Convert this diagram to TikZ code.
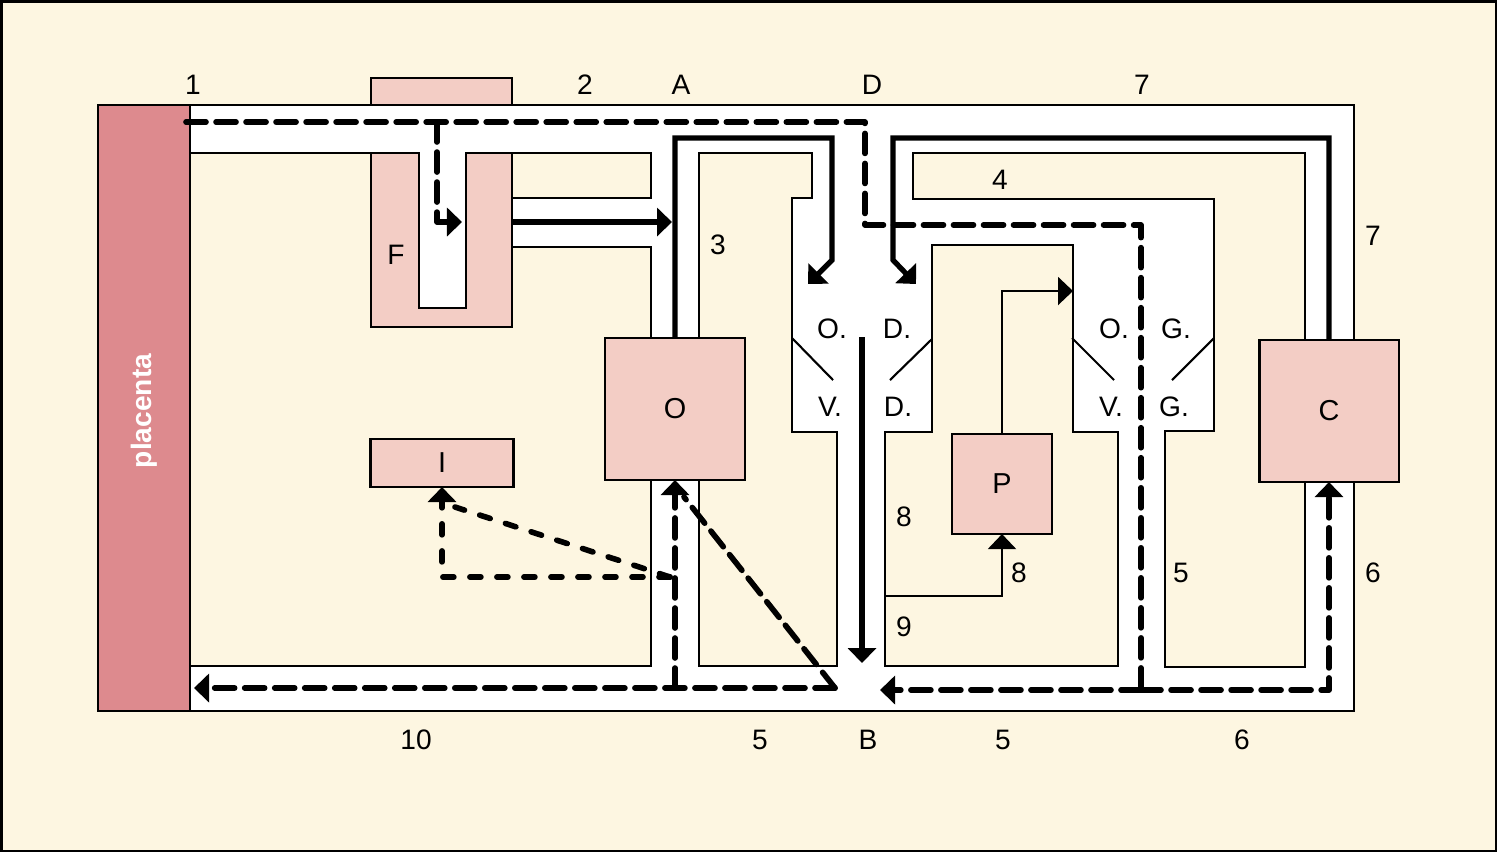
\documentclass[tikz,border=0pt]{standalone}
\usepackage{fontspec}
\setmainfont{Liberation Sans}
\usetikzlibrary{arrows.meta}
\definecolor{cream}{RGB}{253,246,225}
\definecolor{rose}{RGB}{243,205,197}
\definecolor{placentared}{RGB}{221,138,142}
\tikzset{
  wall/.style={draw=black,line width=0.6pt},
  organ/.style={wall,fill=rose,inner sep=0pt,outer sep=0pt,font=\fontsize{8.2}{9.8}\selectfont},
  arr/.style={-{Triangle[length=1.5mm,width=2.8mm]}},
  flow/.style={line width=1.5pt,arr},
  blood/.style={line width=1.6pt,dash pattern=on 2mm off 1mm,line cap=round,line join=round},
  mixed/.style={line width=1.6pt,dash pattern=on 1.1mm off 1.6mm,line cap=round,line join=round},
  lbl/.style={font=\fontsize{8}{9.6}\selectfont,inner sep=0pt}
}
\begin{document}
\begin{tikzpicture}[x=0.01cm,y=-0.01cm]
        \useasboundingbox (0,0) rectangle (1500,853);
        \filldraw[fill=cream,draw=black,line width=0.7pt] (1.5,1.5) rectangle (1496,851);
        \filldraw[wall,fill=rose] (371,105) -- (371,78) -- (512,78) -- (512,105);
        \filldraw[wall,fill=white] (98,105) rectangle (1354,711);
        \begin{scope}[every path/.style={wall,fill=cream}]
          \filldraw (190,153) -- (371,153) -- (371,327) -- (512,327) -- (512,247) -- (651,247) -- (651,666) -- (190,666) -- cycle;
          \filldraw (512,153) rectangle (651,198);
          \filldraw (699,153) -- (812,153) -- (812,198) -- (792,198) -- (792,432) -- (837,432) -- (837,666) -- (699,666) -- cycle;
          \filldraw (932,245) -- (1073,245) -- (1073,432) -- (1118,432) -- (1118,666) -- (885,666) -- (885,432) -- (932,432) -- cycle;
          \filldraw (913,153) -- (1305,153) -- (1305,667) -- (1165,667) -- (1165,431) -- (1214,431) -- (1214,199) -- (913,199) -- cycle;
        \end{scope}
        \filldraw[wall,fill=rose] (371,153) -- (419,153) -- (419,308) -- (466,308) -- (466,153) -- (512,153) -- (512,327) -- (371,327) -- cycle;
        \draw[wall] (792,338) -- (833,380);
        \draw[wall] (932,339) -- (890,380);
        \draw[wall] (1072,338) -- (1114,380);
        \draw[wall] (1214,338) -- (1172,380);
        \filldraw[wall,fill=placentared] (98,105) rectangle (190,711);
        \node[rotate=90,text=white,inner sep=0pt,font=\bfseries\fontsize{8}{9.6}\selectfont] (plac) at (144,411) {placenta};
        \node[organ,minimum width=1.40cm,minimum height=1.42cm] (o) at (675,409) {O};
        \node[organ,minimum width=1.39cm,minimum height=1.42cm] (c) at (1329,411) {C};
        \node[organ,minimum width=1cm,minimum height=1cm] (p) at (1002,484) {P};
        \node[organ,minimum width=1.43cm,minimum height=0.48cm] (i) at (442,463) {I};
        \coordinate (pl) at (186,122);
        \coordinate (b) at (835,688);
        \coordinate (t) at (1141,690);
        \coordinate (mix) at (670,577);
        \draw[blood] (pl) -- (865,122) -- (865,225) -- (1141,225) -- (t);
        \draw[blood,arr] (437,122) -- (437,222) -- (462,222);
        \draw[blood,arr] (t) -- (880,690);
        \draw[blood,arr] (t) -| (c.south);
        \draw[blood,arr] (b) -- (194,688);
        \draw[blood,arr] (675,688) -- (o.south);
        \draw[blood] (b) -- (684,497);
        \draw[mixed,arr] (mix) -- (442,577) -- (i.south);
        \draw[mixed] (mix) -- (455,507);
        \draw[flow] (o.north) -- (675,138) -- (832,138) -- (832,260) -- (808,284);
        \draw[flow] (c.north) -- (1329,138) -- (893,138) -- (893,260) -- (916,284);
        \draw[flow] (512,222) -- (672,222);
        \draw[flow] (862,337) -- (862,663);
        \draw[wall,arr] (884,596) -| (p.south);
        \draw[wall,arr] (p.north) |- (1073,291);
        \begin{scope}[every node/.style={lbl}]
          \node (n1) at (193,85) {1};
          \node (n2) at (585,85) {2};
          \node (na) at (681,85) {A};
          \node (nd) at (872,85) {D};
          \node (n7a) at (1142,85) {7};
          \node (n4) at (1000,180) {4};
          \node (n3) at (718,245) {3};
          \node (n7b) at (1373,236) {7};
          \node (nf) at (396,255) {F};
          \node (od) at (832,329) {O.};
          \node (dd) at (897,329) {D.};
          \node (og) at (1114,329) {O.};
          \node (gg) at (1176,329) {G.};
          \node (vd) at (830,407) {V.};
          \node (dv) at (898,407) {D.};
          \node (vg) at (1111,407) {V.};
          \node (gv) at (1174,407) {G.};
          \node (n8a) at (904,517) {8};
          \node (n8b) at (1019,573) {8};
          \node (n9) at (904,627) {9};
          \node (n5r) at (1181,573) {5};
          \node (n6r) at (1373,573) {6};
          \node (n10) at (416,740) {10};
          \node (n5a) at (760,740) {5};
          \node (nb) at (868,740) {B};
          \node (n5b) at (1003,740) {5};
          \node (n6b) at (1242,740) {6};
        \end{scope}
      \end{tikzpicture}
\end{document}
